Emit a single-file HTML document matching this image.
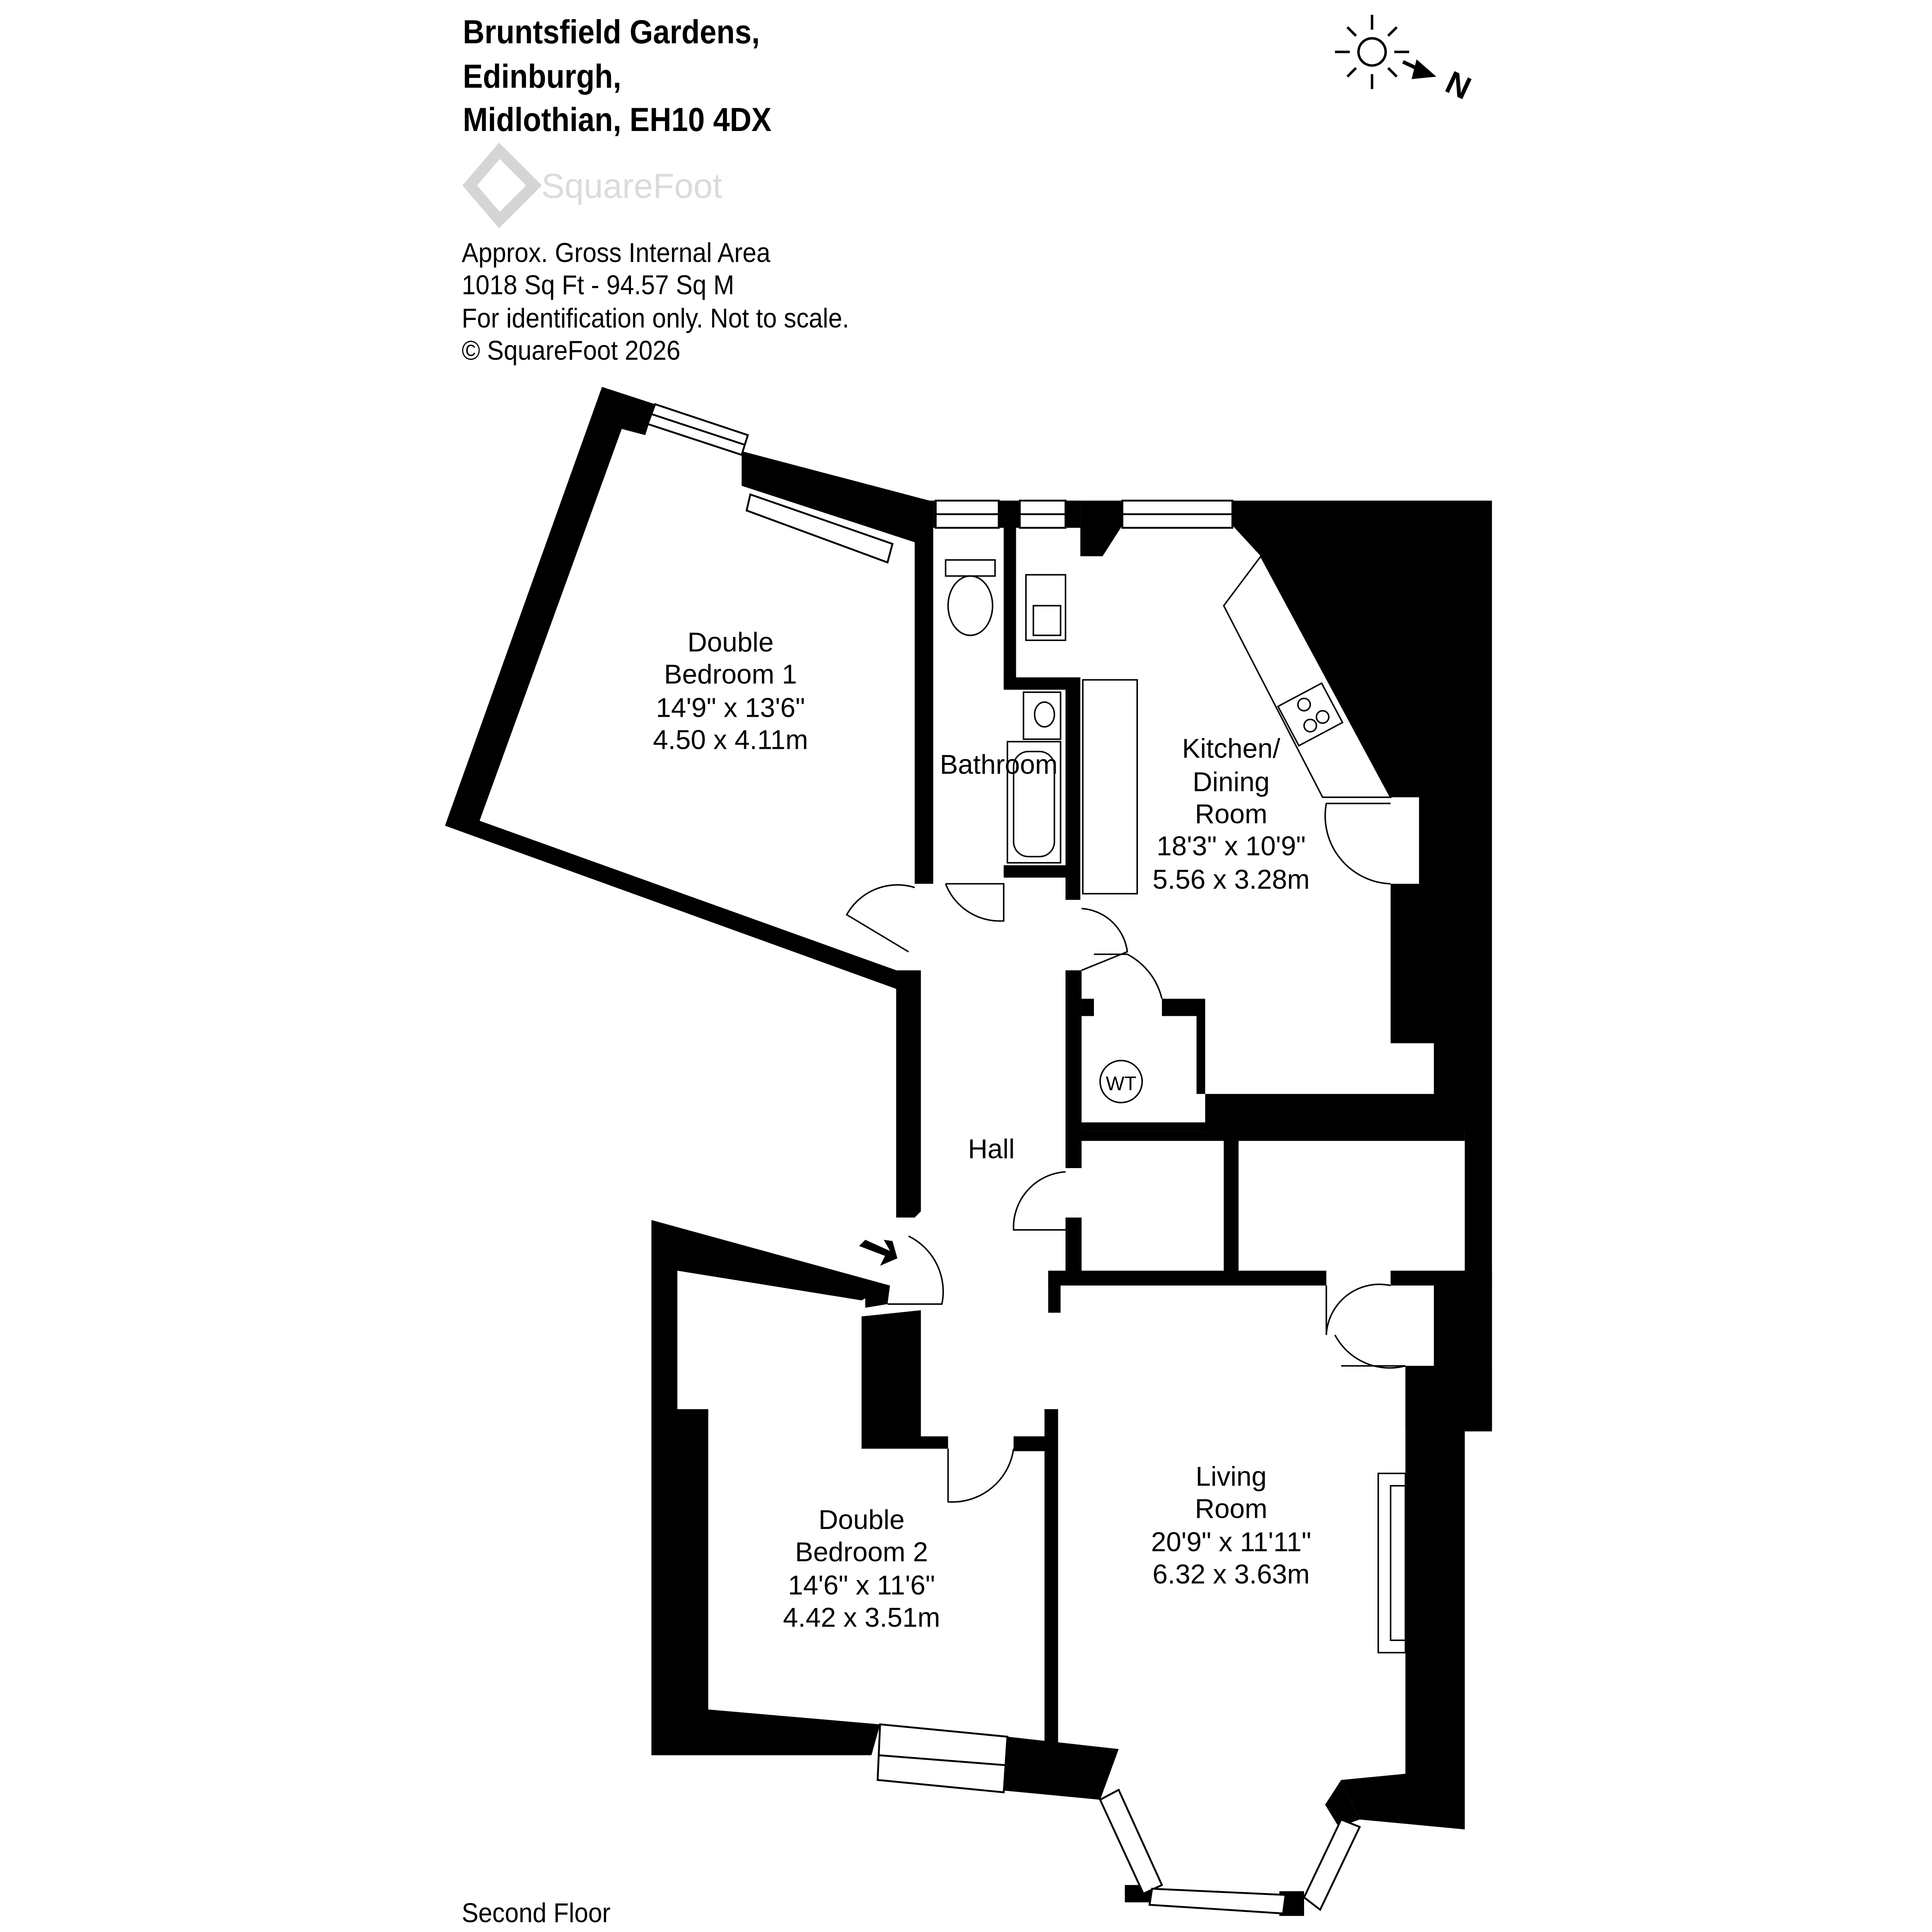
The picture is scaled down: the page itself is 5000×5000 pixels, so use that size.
<!DOCTYPE html>
<html><head><meta charset="utf-8"><style>
html,body{margin:0;padding:0;background:#fff}
svg{display:block}
text{font-family:"Liberation Sans",sans-serif;fill:#000}
</style></head><body>
<svg width="5000" height="5000" viewBox="0 0 1563 1563" xmlns="http://www.w3.org/2000/svg">
<g font-size="27" font-weight="bold" transform="scale(0.9,1)">
<text x="416" y="35">Bruntsfield Gardens,</text>
<text x="416" y="71">Edinburgh,</text>
<text x="416" y="106">Midlothian, EH10 4DX</text>
</g>
<g opacity="0.35">
<path d="M404,122 L432,150 L404,178 L380,150 Z" fill="none" stroke="#888" stroke-width="9"/>
<text x="438" y="160" font-size="28" fill="#999" style="fill:#999">SquareFoot</text>
</g>
<g font-size="22" transform="scale(0.92,1)">
<text x="406" y="212">Approx. Gross Internal Area</text>
<text x="406" y="238">1018 Sq Ft  -  94.57 Sq M</text>
<text x="406" y="265">For identification only. Not to scale.</text>
<text x="406" y="291">© SquareFoot 2026</text>
<text x="406" y="1555">Second Floor</text>
</g>
<!-- compass -->
<g stroke="#000" stroke-width="2" fill="none">
<circle cx="1110" cy="42" r="11"/>
<line x1="1110" y1="12" x2="1110" y2="24"/><line x1="1110" y1="60" x2="1110" y2="72"/>
<line x1="1080" y1="42" x2="1092" y2="42"/><line x1="1128" y1="42" x2="1140" y2="42"/>
<line x1="1090" y1="22" x2="1097" y2="29"/><line x1="1130" y1="22" x2="1123" y2="29"/>
<line x1="1090" y1="62" x2="1097" y2="55"/><line x1="1130" y1="62" x2="1123" y2="55"/>
<line x1="1135" y1="50" x2="1152" y2="58" stroke-width="3"/>
</g>
<path d="M1162,62 L1146,48 L1142,64 Z"/>
<text x="1170" y="78" font-size="26" font-weight="bold" transform="rotate(25 1180 70)">N</text>

<g fill="#000">
<polygon points="487,313 530,327 522,352 503,347 388,664 728,786 735,802 725,800 360,668"/>
<polygon points="600,365 752,405 752,420 744,440 600,393"/>
<rect x="740" y="405" width="15" height="310"/>
<rect x="755" y="405" width="2" height="22"/>
<rect x="808" y="405" width="17" height="22"/>
<rect x="862" y="405" width="12" height="22"/>
<polygon points="874,405 908,405 908,425 892,450 874,450"/>
<rect x="812" y="427" width="10" height="128"/>
<rect x="812" y="548" width="62" height="10"/>
<rect x="862" y="548" width="12" height="180"/>
<rect x="812" y="700" width="50" height="10"/>
<polygon points="997,405 1207,405 1207,1155 1185,1155 1185,915 975,915 975,885 1160,885 1160,844 1125,844 1125,715 1148,715 1148,645 1125,645 1020,450 997,425"/>
<polygon points="725,785 745,785 745,980 740,985 725,985"/>
<rect x="862" y="785" width="13" height="160"/>
<polygon points="875,808 885,808 885,822 875,822"/>
<polygon points="940,808 975,808 975,885 968,885 968,822 940,822"/>
<rect x="875" y="908" width="100" height="7"/>
<rect x="862" y="915" width="323" height="8"/>
<rect x="990" y="920" width="12" height="110"/>
<rect x="848" y="1028" width="225" height="12"/>
<rect x="862" y="985" width="13" height="45"/>
<rect x="848" y="1028" width="10" height="34"/>
<rect x="1125" y="1028" width="82" height="12"/>
<rect x="1160" y="1028" width="47" height="130"/>
<rect x="1137" y="1105" width="70" height="50"/>
<polygon points="1137,1105 1185,1105 1185,1480 1100,1472 1085,1440 1137,1435"/>
<polygon points="527,987 720,1040 718,1055 710,1045 697,1052 548,1028 548,1140 573,1140 573,1383 712,1395 705,1420 527,1420"/>
<polygon points="697,1065 745,1060 745,1162 767,1162 767,1172 697,1172"/>
<polygon points="700,1042 718,1040 718,1055 700,1058"/>
<rect x="820" y="1162" width="35" height="12"/>
<rect x="845" y="1140" width="11" height="270"/>
<polygon points="815,1405 905,1415 890,1456 806,1448"/>
<polygon points="1085,1440 1100,1472 1083,1478 1072,1460"/>
<polygon points="880,1420 905,1415 890,1456 880,1440"/>
<rect x="910" y="1525" width="22" height="14"/>
<rect x="1035" y="1530" width="20" height="20"/>
</g>
<g stroke="#000" stroke-width="1.5" fill="#fff">
<polygon points="530,327 605,352 600,368 524,343"/>
<line x1="527" y1="335" x2="603" y2="360"/>
<rect x="757" y="405" width="51" height="22"/><line x1="757" y1="416" x2="808" y2="416"/>
<rect x="825" y="405" width="37" height="22"/><line x1="825" y1="416" x2="862" y2="416"/>
<rect x="908" y="405" width="89" height="22"/><line x1="908" y1="416" x2="997" y2="416"/>
<polygon points="712,1395 815,1405 812,1450 710,1440"/>
<line x1="711" y1="1420" x2="813" y2="1428"/>
<polygon points="890,1456 905,1448 940,1525 925,1532"/>
<polygon points="932,1528 1040,1533 1038,1548 930,1541"/>
<polygon points="1055,1535 1085,1472 1100,1478 1068,1545"/>
<polygon points="607,400 722,440 718,455 604,413"/>
</g>
<g stroke="#000" stroke-width="1.2" fill="none">
<ellipse cx="785" cy="490" rx="18" ry="24"/><rect x="765" y="453" width="40" height="13"/>
<rect x="830" y="465" width="32" height="53"/><rect x="836" y="490" width="22" height="24"/>
<rect x="828" y="560" width="30" height="38"/><ellipse cx="845" cy="578" rx="8" ry="10"/>
<rect x="815" y="600" width="43" height="98"/><rect x="820" y="608" width="33" height="85" rx="12"/>
<rect x="876" y="550" width="44" height="173"/>
<polygon points="990,490 1020,450 1125,645 1070,645"/>
<rect x="1040" y="560" width="40" height="36" transform="rotate(-28 1060 578)"/>
<circle cx="1055" cy="570" r="5"/><circle cx="1070" cy="580" r="5"/><circle cx="1060" cy="587" r="5"/>
<circle cx="907" cy="875" r="17"/>
<rect x="1115" y="1192" width="22" height="145"/><rect x="1125" y="1202" width="12" height="125"/>
<path d="M765,715 L812,715 L812,745 A47,47 0 0 1 765,715"/>
<path d="M740,718 A47,47 0 0 0 685,740 L735,770"/>
<path d="M875,735 A40,40 0 0 1 912,770 L875,785"/>
<path d="M885,772 L912,772 A55,55 0 0 1 940,808"/>
<path d="M862,948 A45,45 0 0 0 820,995 L862,995"/>
<path d="M1073,1040 L1073,1080 A43,43 0 0 1 1125,1040"/>
<path d="M1085,1105 L1137,1105 A50,50 0 0 1 1080,1080"/>
<path d="M1125,650 L1073,650 A55,55 0 0 0 1125,715"/>
<path d="M718,1055 L762,1055 A50,50 0 0 0 735,1000"/>
<path d="M767,1172 L767,1215 A50,50 0 0 0 820,1172"/>
</g>
<path d="M700,1003 L720,1012 L715,1003 L722,1004 L726,1018 L712,1024 L716,1016 L695,1008 Z"/>
<g font-size="22" text-anchor="middle">
<text x="591" y="527">Double</text><text x="591" y="553">Bedroom 1</text>
<text x="591" y="580">14'9" x 13'6"</text><text x="591" y="606">4.50 x 4.11m</text>
<text x="808" y="626">Bathroom</text>
<text x="996" y="613">Kitchen/</text><text x="996" y="640">Dining</text><text x="996" y="666">Room</text>
<text x="996" y="692">18'3" x 10'9"</text><text x="996" y="719">5.56 x 3.28m</text>
<text x="907" y="882" font-size="16">WT</text>
<text x="802" y="937">Hall</text>
<text x="996" y="1202">Living</text><text x="996" y="1228">Room</text>
<text x="996" y="1255">20'9" x 11'11"</text><text x="996" y="1281">6.32 x 3.63m</text>
<text x="697" y="1237">Double</text><text x="697" y="1263">Bedroom 2</text>
<text x="697" y="1290">14'6" x 11'6"</text><text x="697" y="1316">4.42 x 3.51m</text>
</g>
</svg>
</body></html>
